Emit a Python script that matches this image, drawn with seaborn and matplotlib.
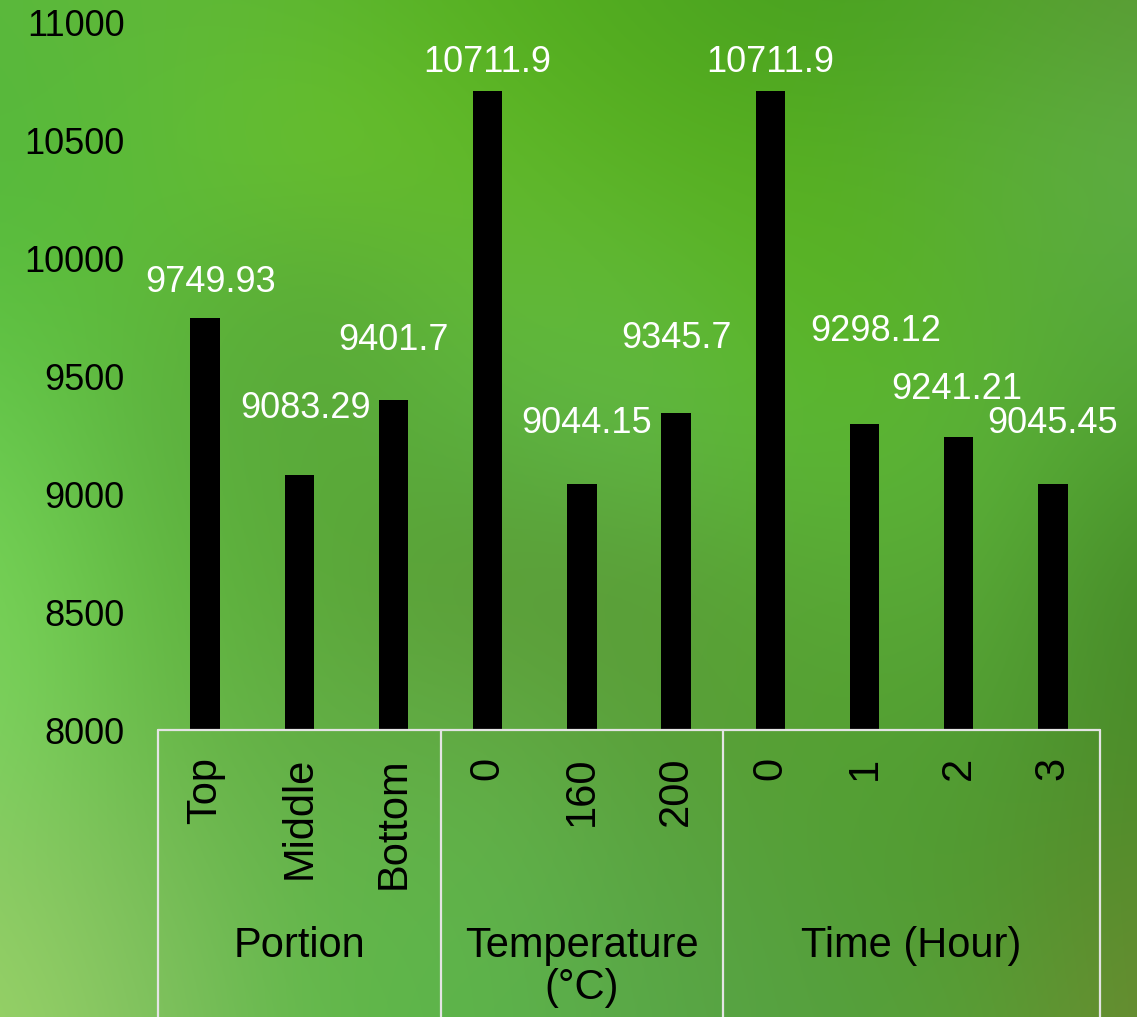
import numpy as np
import pandas as pd
import matplotlib
matplotlib.use("Agg")
import matplotlib.pyplot as plt
import matplotlib.transforms as mtransforms
from matplotlib.colors import to_rgb
import seaborn as sns

# ---- data ----
groups = ["Portion", "Portion", "Portion",
          "Temperature\n(°C)", "Temperature\n(°C)", "Temperature\n(°C)",
          "Time (Hour)", "Time (Hour)", "Time (Hour)", "Time (Hour)"]
ticks = ["Top", "Middle", "Bottom", "0", "160", "200", "0", "1", "2", "3"]
values = [9749.93, 9083.29, 9401.7, 10711.9, 9044.15, 9345.7,
          10711.9, 9298.12, 9241.21, 9045.45]
value_text = ["9749.93", "9083.29", "9401.7", "10711.9", "9044.15", "9345.7",
              "10711.9", "9298.12", "9241.21", "9045.45"]
y_ticks = [8000, 8500, 9000, 9500, 10000, 10500, 11000]

# hand-placed data-label offsets (pixels from the top centre of each bar)
label_offsets = [(5, 26), (6, 57), (0, 50), (0, 19), (5, 51),
                 (0, 65), (0, 19), (11, 83), (-2, 38), (0, 51)]

# soft blurred green backdrop, sampled on a coarse grid (rows top -> bottom)
backdrop = [
    ["#5ab83c", "#60b838", "#5cb530", "#55b020", "#4fa820", "#48a020", "#50a428", "#5a9a35"],
    ["#55b83c", "#5ebc38", "#6cc42c", "#60b828", "#58b020", "#55ae20", "#5aae35", "#60ae45"],
    ["#5cc040", "#5eb838", "#58a838", "#64bc38", "#60b838", "#58b420", "#5ab030", "#58a840"],
    ["#6acc50", "#5cb040", "#5aa838", "#5ab040", "#62b848", "#5ab830", "#5cb43a", "#50a030"],
    ["#78d458", "#60b840", "#5aa838", "#5a9a35", "#5a9c38", "#58a835", "#5aaa38", "#458a28"],
    ["#7ed460", "#68b848", "#62ac45", "#62ac45", "#5aa03a", "#55a030", "#52a035", "#4a8a28"],
    ["#8ccc65", "#78bc58", "#60b448", "#62b44c", "#5aa444", "#55a038", "#509a30", "#5a8a2c"],
    ["#9ad468", "#80c060", "#60b848", "#5cb44c", "#5aa848", "#55a040", "#58a035", "#6a8a30"],
]

df = pd.DataFrame({
    "key": [f"{g}|{t}" for g, t in zip(groups, ticks)],
    "group": groups,
    "tick": ticks,
    "value": values,
})

sns.set_theme(style="white")
plt.rcParams["font.family"] = ["Liberation Sans", "DejaVu Sans"]

W, H, DPI = 1137, 1017, 100
fig = plt.figure(figsize=(W / DPI, H / DPI), dpi=DPI)

# background image
bg = fig.add_axes([0, 0, 1, 1])
img = np.array([[to_rgb(c) for c in row] for row in backdrop])
ny, nx = img.shape[:2]
ex, ey = 0.5 / (nx - 1), 0.5 / (ny - 1)
bg.imshow(img, extent=[-ex, 1 + ex, -ey, 1 + ey], origin="upper",
          interpolation="bicubic", aspect="auto")
bg.set_xlim(0, 1)
bg.set_ylim(0, 1)
bg.axis("off")
bg.set_zorder(0)

# plot area
left, right = 158, 1100
top, bottom = 23, 730
ax = fig.add_axes([left / W, 1 - bottom / H, (right - left) / W, (bottom - top) / H])
ax.set_zorder(1)
ax.patch.set_alpha(0)

sns.barplot(data=df, x="key", y="value", color="black", width=0.31,
            linewidth=0, saturation=1, ax=ax, errorbar=None)

ax.set_ylim(8000, 11000)
ax.set_xlim(-0.5, len(values) - 0.5)
ax.set_yticks(y_ticks)
ax.set_yticklabels([str(v) for v in y_ticks])
ax.tick_params(axis="y", length=0, pad=24, labelsize=26, labelcolor="black")
ax.set_xticks([])
ax.set_xlabel("")
ax.set_ylabel("")
for s in ax.spines.values():
    s.set_visible(False)

# value labels
for i, (v, txt, (dx, dy)) in enumerate(zip(values, value_text, label_offsets)):
    ax.annotate(txt, xy=(i, v), xytext=(dx, dy), textcoords="offset pixels",
                ha="center", va="baseline", fontsize=26, color="white")

# category table below the axis
trans = mtransforms.blended_transform_factory(ax.transData, ax.transAxes)
ph = bottom - top
def ay(px):
    return (bottom - px) / ph

line_kw = dict(color="#e4e4e4", lw=1.6, transform=trans, clip_on=False, zorder=3)
ax.plot([-0.5, len(values) - 0.5], [0, 0], **line_kw)

boundaries = [-0.5]
for i in range(1, len(groups)):
    if groups[i] != groups[i - 1]:
        boundaries.append(i - 0.5)
boundaries.append(len(groups) - 0.5)
for b in boundaries:
    ax.plot([b, b], [0, ay(H + 10)], **line_kw)

for i, t in enumerate(ticks):
    ax.text(i, ay(757), t, rotation=90, ha="center", va="top",
            fontsize=30, color="black", transform=trans)

for a, b in zip(boundaries[:-1], boundaries[1:]):
    name = groups[int(a + 0.5)]
    ax.text((a + b) / 2, ay(926), name, ha="center", va="top",
            fontsize=30, color="black", linespacing=1.08, transform=trans)

fig.savefig("out.png", dpi=DPI)
